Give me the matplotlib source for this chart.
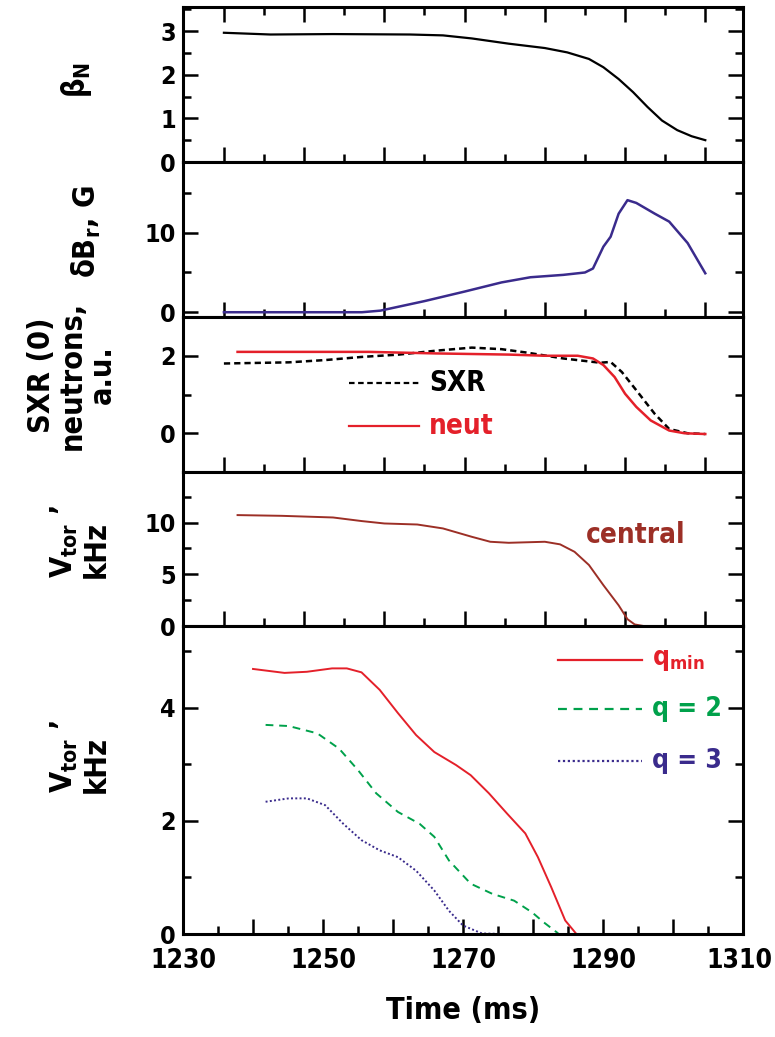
import numpy as np
import matplotlib.pyplot as plt
import matplotlib.transforms as mtransforms
from matplotlib.ticker import MultipleLocator, FixedLocator

plt.rcParams['font.family'] = ['DejaVu Sans']
plt.rcParams['font.stretch'] = 'condensed'
plt.rcParams['font.weight'] = 'bold'
plt.rcParams['axes.labelweight'] = 'bold'
plt.rcParams['mathtext.fontset'] = 'custom'
plt.rcParams['mathtext.rm'] = 'DejaVu Sans:weight=bold:stretch=condensed'
plt.rcParams['mathtext.it'] = 'DejaVu Sans:weight=bold:stretch=condensed'
plt.rcParams['mathtext.bf'] = 'DejaVu Sans:weight=bold:stretch=condensed'

# beta_N
t_beta = [1240, 1245.8, 1253.6, 1263.2, 1267.3, 1270.9, 1275.5, 1280, 1282.8, 1285.5,
          1287.3, 1289.2, 1291, 1292.8, 1294.6, 1296.5, 1298.3, 1300]
beta_n = [2.96, 2.92, 2.93, 2.92, 2.90, 2.83, 2.71, 2.61, 2.51, 2.36,
          2.17, 1.90, 1.60, 1.26, 0.95, 0.73, 0.59, 0.50]

# delta B_r (G)
t_db = [1240, 1257.2, 1259.5, 1265, 1270, 1274.6, 1278.2, 1282.3, 1285, 1286,
        1287.3, 1288.2, 1289.2, 1290.3, 1291.4, 1293.7, 1295.5, 1297.8, 1300]
db_r = [0, 0, 0.2, 1.4, 2.6, 3.75, 4.4, 4.7, 5.0, 5.5,
        8.25, 9.5, 12.4, 14.1, 13.75, 12.4, 11.4, 8.7, 4.9]

# SXR(0) and neutrons
t_sxr = [1240, 1248.1, 1252.7, 1257.2, 1261.8, 1266.4, 1270.9, 1274.6, 1277.8, 1282.3,
         1286.9, 1288.2, 1289.6, 1291.4, 1293.7, 1295.5, 1297.8, 1300]
sxr = [1.80, 1.83, 1.89, 1.97, 2.03, 2.13, 2.21, 2.17, 2.08, 1.93,
       1.82, 1.84, 1.58, 1.11, 0.50, 0.11, 0.0, -0.02]
t_neut = [1241.7, 1258.1, 1266.4, 1275.5, 1280, 1284.1, 1286, 1287.3, 1288.7, 1290,
          1291.4, 1293.2, 1295.5, 1297.4, 1300]
neut = [2.10, 2.10, 2.06, 2.03, 2.0, 2.0, 1.93, 1.76, 1.45, 1.02,
        0.68, 0.33, 0.07, 0.0, -0.02]

# central toroidal rotation (kHz)
t_cen = [1241.7, 1247.2, 1253.6, 1257.2, 1260, 1264.1, 1267.3, 1270.9, 1273.2, 1275.5,
         1280, 1281.9, 1283.7, 1285.5, 1287.3, 1289.2, 1290.3, 1291.2, 1292.3, 1300]
v_cen = [10.73, 10.66, 10.5, 10.15, 9.92, 9.82, 9.44, 8.63, 8.15, 8.05,
         8.15, 7.9, 7.18, 5.9, 3.95, 2.0, 0.66, 0.15, 0.0, 0.0]

# rotation at q_min, q=2, q=3 (kHz)
t_qmin = [1240, 1244.5, 1247.7, 1251.3, 1253.4, 1255.5, 1258.1, 1260.7, 1263.3, 1265.9,
          1269, 1271.1, 1273.7, 1276.3, 1278.9, 1280.7, 1282.6, 1284.6, 1286.2]
v_qmin = [4.69, 4.62, 4.64, 4.70, 4.70, 4.63, 4.32, 3.91, 3.52, 3.22,
          2.99, 2.81, 2.49, 2.13, 1.78, 1.36, 0.83, 0.24, 0.0]
t_q2 = [1241.8, 1245.1, 1249.2, 1252.3, 1255, 1257.6, 1260.7, 1263.8, 1265.9, 1268,
        1271.1, 1274.2, 1277.3, 1279.9, 1281.5, 1283.6]
v_q2 = [3.70, 3.68, 3.55, 3.28, 2.90, 2.49, 2.16, 1.95, 1.72, 1.30,
        0.89, 0.71, 0.59, 0.38, 0.21, 0.01]
t_q3 = [1241.8, 1245.1, 1247.7, 1250.3, 1252.9, 1255.5, 1258.1, 1260.7, 1263.3, 1265.9,
        1268, 1270, 1272.7, 1276]
v_q3 = [2.34, 2.40, 2.40, 2.28, 1.95, 1.66, 1.48, 1.36, 1.12, 0.77,
        0.41, 0.15, 0.01, 0.0]

RED = '#e4202a'
GREEN = '#00a14b'
PURPLE = '#3a2b8c'
BROWN = '#9c2f26'

W, H = 775, 1037
fig = plt.figure(figsize=(W / 100, H / 100), dpi=100)

left, right = 183 / W, 743 / W
edges = [7, 162, 317, 472, 626, 934]  # panel edges, pixels from top
axes = []
for i in range(5):
    top, bot = 1 - edges[i] / H, 1 - edges[i + 1] / H
    axes.append(fig.add_axes([left, bot, right - left, top - bot]))
ax1, ax2, ax3, ax4, ax5 = axes

ax1.plot(t_beta, beta_n, color='black', lw=1.6)
ax2.plot(t_db, db_r, color=PURPLE, lw=1.8)
ax3.plot(t_sxr, sxr, color='black', lw=1.8, ls=(0, (2.5, 1.6)))
ax3.plot(t_neut, neut, color=RED, lw=1.8)
ax4.plot(t_cen, v_cen, color=BROWN, lw=1.4)
ax5.plot(t_qmin, v_qmin, color=RED, lw=1.4)
ax5.plot(t_q2, v_q2, color=GREEN, lw=1.4, ls=(0, (4, 3)))
ax5.plot(t_q3, v_q3, color=PURPLE, lw=1.4, ls=(0, (1, 1.2)))

ylims = [(0, 3.55), (-0.6, 18.9), (-1, 3), (0, 14.9), (0, 5.45)]
ymajor = [1, 10, 2, 5, 2]
yminor = [0.5, 5, 1, 2.5, 1]
for ax, yl, ma, mi in zip(axes, ylims, ymajor, yminor):
    ax.set_ylim(*yl)
    ax.yaxis.set_major_locator(MultipleLocator(ma))
    ax.yaxis.set_minor_locator(MultipleLocator(mi))
    for s in ax.spines.values():
        s.set_linewidth(2.2)
    ax.tick_params(axis='both', which='both', direction='in', width=1.8,
                   labelsize=18, pad=5)
    ax.tick_params(which='major', length=11)
    ax.tick_params(which='minor', length=6)
    ax.tick_params(axis='y', which='both', left=True, right=True)
    ax.tick_params(axis='x', which='both', top=False, labelbottom=False)

# upper four panels share their own time base
for ax in axes[:4]:
    ax.set_xlim(1234.9, 1304.7)
    ax.xaxis.set_major_locator(FixedLocator(np.arange(1240, 1301, 10)))
    ax.xaxis.set_minor_locator(FixedLocator(np.arange(1245, 1300, 10)))
ax1.tick_params(axis='x', which='both', top=True)

ax5.set_xlim(1230, 1310)
ax5.xaxis.set_major_locator(FixedLocator(np.arange(1230, 1311, 10)))
ax5.xaxis.set_minor_locator(MultipleLocator(5))
ax5.set_xticklabels([str(v) if v % 20 == 10 else '' for v in range(1230, 1311, 10)])
ax5.tick_params(axis='x', labelbottom=True, labelsize=19, pad=10)
ax5.set_xlabel('Time (ms)', fontsize=22, labelpad=16)
# pull the last time label in a little so it stays on the canvas
last = ax5.get_xticklabels()[-1]
last.set_transform(last.get_transform() +
                   mtransforms.ScaledTranslation(-4 / 100, 0, fig.dpi_scale_trans))

# legends drawn as short line segments plus coloured text
def legend_entry(ax, x0, x1, y, label, color, ls, size=19):
    ax.plot([x0, x1], [y, y], transform=ax.transAxes, color=color, lw=1.6, ls=ls)
    ax.text(x1 + 0.017, y, label, transform=ax.transAxes, color=color,
            fontsize=size, va='center', ha='left')

legend_entry(ax3, 0.297, 0.422, 0.572, 'SXR', 'black', (0, (2.5, 1.6)), 20)
legend_entry(ax3, 0.297, 0.422, 0.296, 'neut', RED, '-', 20)
legend_entry(ax5, 0.67, 0.82, 0.889, r'q$_{\mathrm{min}}$', RED, '-')
legend_entry(ax5, 0.67, 0.82, 0.73, 'q = 2', GREEN, (0, (4, 3)))
legend_entry(ax5, 0.67, 0.82, 0.563, 'q = 3', PURPLE, (0, (1, 1.2)))
ax4.text(0.72, 0.594, 'central', transform=ax4.transAxes, color=BROWN,
         fontsize=20, va='center', ha='left')

# y-axis labels
lab = dict(rotation=90, fontsize=22)
fig.text(76 / W, 1 - 80 / H, r'$\mathrm{β}_\mathrm{N}$', ha='center', va='center', **lab)
fig.text(86 / W, 1 - 232 / H, r'$\mathrm{δB}_\mathrm{r}$, G', ha='center', va='center', **lab)
fig.text(72 / W, 1 - 375 / H, 'SXR (0)\nneutrons,\na.u.', ha='center', va='center',
         multialignment='center', linespacing=1.05, **lab)
fig.text(80 / W, 1 - 578 / H, '$\\mathrm{V}_\\mathrm{tor}$ ’\nkHz', ha='center', va='bottom',
         multialignment='left', linespacing=1.05, **lab)
fig.text(80 / W, 1 - 793 / H, '$\\mathrm{V}_\\mathrm{tor}$ ’\nkHz', ha='center', va='bottom',
         multialignment='left', linespacing=1.05, **lab)

fig.savefig('out.png', dpi=100)
